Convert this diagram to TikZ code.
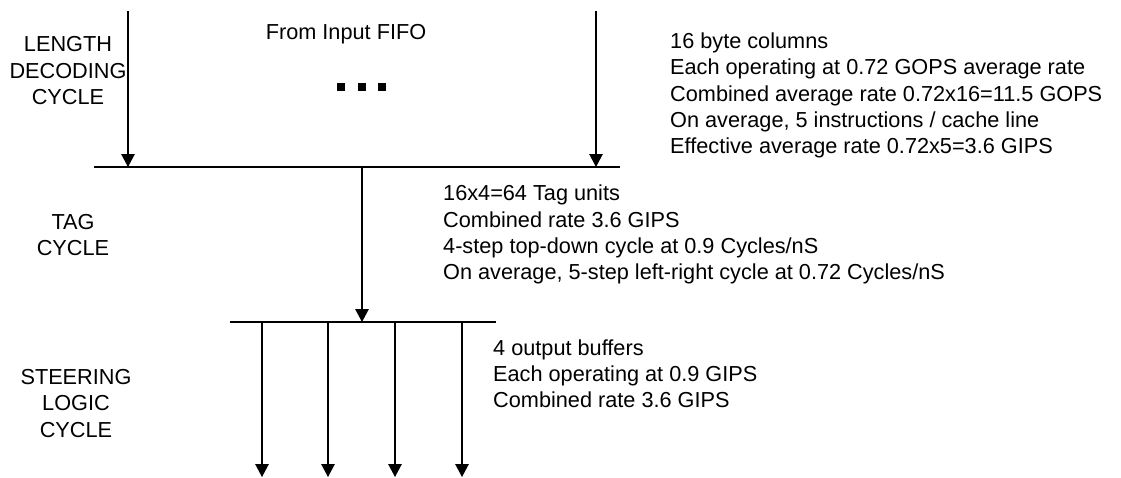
\documentclass[tikz,border=0pt]{standalone}
\usepackage{fontspec}
\setmainfont{Liberation Sans}
\usetikzlibrary{arrows.meta}
\begin{document}
\begin{tikzpicture}[x=1pt,y=-1pt,
  wire/.style={line width=1.3pt},
  arr/.style={wire,-{Triangle[width=13.5pt,length=13pt]}},
  lbl/.style={inner sep=0pt,align=center,anchor=base,font=\fontsize{21.7}{26.4}\selectfont},
  info/.style={inner sep=0pt,align=left,anchor=base west,font=\fontsize{21.7}{26.4}\selectfont},
  dot/.style={fill=black,minimum size=7.7pt,inner sep=0pt}]
\useasboundingbox (0,0) rectangle (1121,477);
% coordinates
\coordinate (l1a) at (94,167); \coordinate (l1b) at (620,167);
\coordinate (l2a) at (230,322); \coordinate (l2b) at (496,322);
\coordinate (in1) at (128,11); \coordinate (out1) at (128,167);
\coordinate (in2) at (596,11); \coordinate (out2) at (596,167);
\coordinate (c1) at (362,167); \coordinate (c2) at (362,322);
\foreach \i/\x in {1/262,2/328,3/395,4/462}{
  \coordinate (s\i) at (\x,322); \coordinate (e\i) at (\x,477);}
% lines
\draw[wire] (l1a) -- (l1b);
\draw[wire] (l2a) -- (l2b);
\draw[arr] (in1) -- (out1);
\draw[arr] (in2) -- (out2);
\draw[arr] (c1) -- (c2);
\foreach \i in {1,...,4}{\draw[arr] (s\i) -- (e\i);}
% dots
\node[dot] (d1) at (341,86.7) {};
\node[dot] (d2) at (362,86.7) {};
\node[dot] (d3) at (382,86.7) {};
% labels (anchored at the baseline of the last line)
\node[lbl] (fifo) at (346,39.3) {From Input FIFO};
\node[lbl] (lenc) at (68,104.5) {LENGTH\\DECODING\\CYCLE};
\node[lbl] (tagc) at (73,255.4) {TAG\\CYCLE};
\node[lbl] (steer) at (76,437.3) {STEERING\\LOGIC\\CYCLE};
\node[info] (t1) at (670,153.8) {16 byte columns\\Each operating at 0.72 GOPS average rate\\Combined average rate 0.72x16=11.5 GOPS\\On average, 5 instructions / cache line\\Effective average rate 0.72x5=3.6 GIPS};
\node[info] (t2) at (443,279.9) {16x4=64 Tag units\\Combined rate 3.6 GIPS\\4-step top-down cycle at 0.9 Cycles/nS\\On average, 5-step left-right cycle at 0.72 Cycles/nS};
\node[info] (t3) at (493,407.8) {4 output buffers\\Each operating at 0.9 GIPS\\Combined rate 3.6 GIPS};
\end{tikzpicture}
\end{document}
